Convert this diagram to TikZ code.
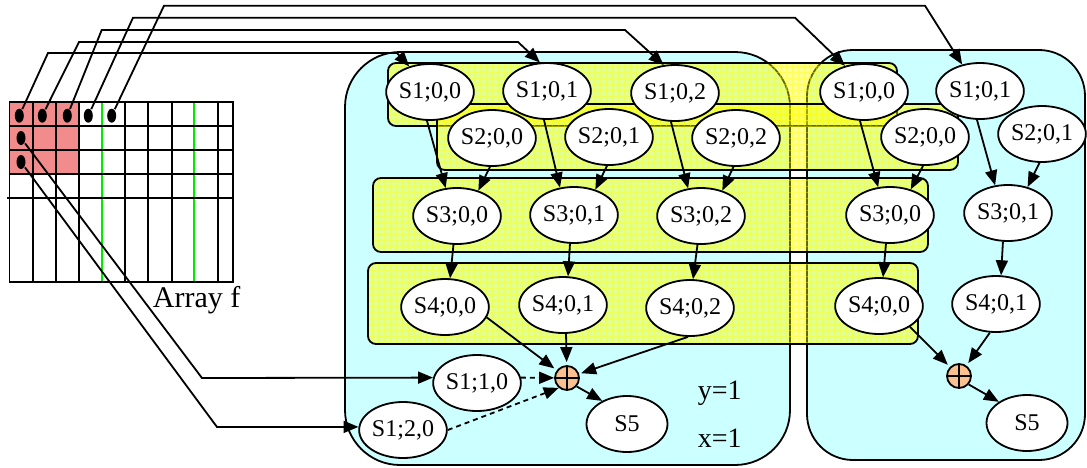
\documentclass[tikz,border=0pt]{standalone}
\usepackage{fontspec}
\setmainfont{Liberation Serif}
\usetikzlibrary{arrows.meta,shapes.geometric}
\definecolor{boxcyan}{RGB}{204,255,255}
\definecolor{bandyel}{RGB}{255,255,0}
\definecolor{cellred}{RGB}{242,140,140}
\definecolor{sumorange}{RGB}{250,192,143}
\definecolor{gridgreen}{RGB}{0,235,0}

% a yellow stage band with its fine grid texture
\newcommand{\stageband}[4]{%
  \fill[bandyel,fill opacity=0.4,rounded corners=8pt] (#1,#2) rectangle (#3,#4);
  \begin{scope}
    \clip[rounded corners=8pt] (#1,#2) rectangle (#3,#4);
    \draw[bandyel,line width=0.7pt,opacity=0.4] (#1,#4) grid[xstep=6pt,ystep=6pt] (#3,#2);
  \end{scope}
  \draw[rounded corners=8pt] (#1,#2) rectangle (#3,#4);
}

\begin{document}
\begin{tikzpicture}[x=1pt,y=-1pt,line width=1.8pt,
  task/.style={ellipse,draw,fill=white,minimum width=81pt,minimum height=56pt,
    inner sep=0pt,font=\fontsize{24}{26}\selectfont},
  sum/.style={circle,draw,fill=sumorange,minimum size=24pt,inner sep=0pt},
  pin/.style={ellipse,fill=black,minimum width=9pt,minimum height=14pt,inner sep=0pt},
  flow/.style={-{Triangle[length=15pt,width=12pt]}},
  feed/.style={flow,dash pattern=on 5pt off 4pt},
  region/.style={draw,fill=boxcyan},
  caption/.style={inner sep=0pt,anchor=base west},
]
\useasboundingbox (0,0) rectangle (1087,467);

% ---- array f ----
\fill[cellred] (9.5,102) rectangle (79,174);
\foreach \x in {102,194} \draw[gridgreen] (\x,102) -- (\x,282);
\foreach \x in {33,56,79,125,148,172,218} \draw (\x,102) -- (\x,282);
\foreach \y in {126,150,174} \draw (9.5,\y) -- (233,\y);
\draw (7,198) -- (232,198);
\draw (9.5,102) rectangle (233,282);
\node[caption,font=\fontsize{30}{32}\selectfont] (arrlabel) at (152,307) {Array f};

\node[pin] (d1) at (19.3,115.7) {};
\node[pin] (d2) at (42.3,115.7) {};
\node[pin] (d3) at (67.3,115.7) {};
\node[pin] (d4) at (88.3,115.7) {};
\node[pin] (d5) at (111.7,115.7) {};
\node[pin] (d6) at (21,138) {};
\node[pin] (d7) at (21,162) {};

% ---- processor regions ----
\draw[region,rounded corners=55pt] (345,52) rectangle (790,465);
\draw[region,rounded corners=46pt] (807,50) rectangle (1085,460);

% ---- stage bands ----
\stageband{388}{63}{897}{126}
\stageband{437}{104}{958}{170}
\stageband{373}{178}{928}{252}
\stageband{368}{263}{918}{344}

% ---- tasks, x=1 ----
\node[task] (s100a) at (430,92) {S1;0,0};
\node[task] (s101a) at (547,91) {S1;0,1};
\node[task] (s102a) at (675,93) {S1;0,2};
\node[task] (s200a) at (492,138) {S2;0,0};
\node[task] (s201a) at (609,137) {S2;0,1};
\node[task] (s202a) at (736,138) {S2;0,2};
\node[task] (s300a) at (457,216) {S3;0,0};
\node[task] (s301a) at (574,215) {S3;0,1};
\node[task] (s302a) at (701,216) {S3;0,2};
\node[task] (s400a) at (445,307) {S4;0,0};
\node[task] (s401a) at (563,305) {S4;0,1};
\node[task] (s402a) at (690,308) {S4;0,2};
\node[task] (s110) at (477,383) {S1;1,0};
\node[task] (s120) at (403,430) {S1;2,0};
\node[task] (s5a) at (627,424) {S5};
\node[sum] (suma) at (567,378) {};
\draw[line width=1.5pt] (suma.north) -- (suma.south) (suma.west) -- (suma.east);
\node[caption,font=\fontsize{28}{30}\selectfont] (ylab) at (697,399) {y=1};
\node[caption,font=\fontsize{28}{30}\selectfont] (xlab) at (697,447) {x=1};

% ---- tasks, second region ----
\node[task] (s100b) at (864,92) {S1;0,0};
\node[task] (s101b) at (980,91) {S1;0,1};
\node[task] (s200b) at (925,137) {S2;0,0};
\node[task] (s201b) at (1042,134) {S2;0,1};
\node[task] (s300b) at (890,215) {S3;0,0};
\node[task] (s301b) at (1008,213) {S3;0,1};
\node[task] (s400b) at (879,306) {S4;0,0};
\node[task] (s401b) at (996,304) {S4;0,1};
\node[task] (s5b) at (1027,423) {S5};
\node[sum] (sumb) at (959,376) {};
\draw[line width=1.5pt] (sumb.north) -- (sumb.south) (sumb.west) -- (sumb.east);

% ---- dependences inside the first region ----
\draw[flow] (s100a.264) -- (s300a.112);
\draw[flow] (s200a.266) -- (s300a.50);
\draw[flow] (s101a.264) -- (s301a.117);
\draw[flow] (s201a.266) -- (s301a.50);
\draw[flow] (s102a.262) -- (s302a.115);
\draw[flow] (s202a.265) -- (s302a.50);
\draw[flow] (s300a.263) -- (s400a.80);
\draw[flow] (s301a.262) -- (s401a.80);
\draw[flow] (s302a.263) -- (s402a.84);
\draw[flow,shorten >=3pt] (s400a.346) -- (suma);
\draw[flow,shorten >=3pt] (s401a.276) -- (suma);
\draw[flow,shorten >=2pt] (s402a.266) -- (suma);
\draw[feed] (s110.7) -- (suma);
\draw[feed] (s120.0) -- (suma.230);
\draw[flow] (suma.319) -- (s5a.137);

% ---- dependences inside the second region ----
\draw[flow] (s100b.262) -- (s300b.113);
\draw[flow] (s200b.266) -- (s300b.51);
\draw[flow] (s101b.264) -- (s301b.115);
\draw[flow] (s201b.265) -- (s301b.53);
\draw[flow] (s300b.262) -- (s400b.82);
\draw[flow] (s301b.260) -- (s401b.80);
\draw[flow,shorten >=3pt] (s400b.326) -- (sumb);
\draw[flow,shorten >=3pt] (s401b.258) -- (sumb);
\draw[flow] (sumb.319) -- (s5b.143);

% ---- reads from array f ----
\coordinate (k1a) at (48,53);    \coordinate (k1b) at (397,53);
\coordinate (k2a) at (79,42);    \coordinate (k2b) at (518,42);
\coordinate (k3a) at (101.7,30); \coordinate (k3b) at (625,30);
\coordinate (k4a) at (133,17.7); \coordinate (k4b) at (795,17.7);
\coordinate (k5a) at (164,5.7);  \coordinate (k5b) at (925,5.7);
\coordinate (k6) at (202,378);
\coordinate (k7) at (217,427);
\draw[flow] (d1) -- (k1a) -- (k1b) -- (s100a.129);
\draw[flow] (d2) -- (k2a) -- (k2b) -- (s101a.104);
\draw[flow] (d3) -- (k3a) -- (k3b) -- (s102a.112);
\draw[flow] (d4) -- (k4a) -- (k4b) -- (s100b.126);
\draw[flow] (d5) -- (k5a) -- (k5b) -- (s101b.124);
\draw[flow] (d6) -- (k6) -- (s110.173);
\draw[flow] (d7) -- (k7) -- (s120.176);
\end{tikzpicture}
\end{document}
